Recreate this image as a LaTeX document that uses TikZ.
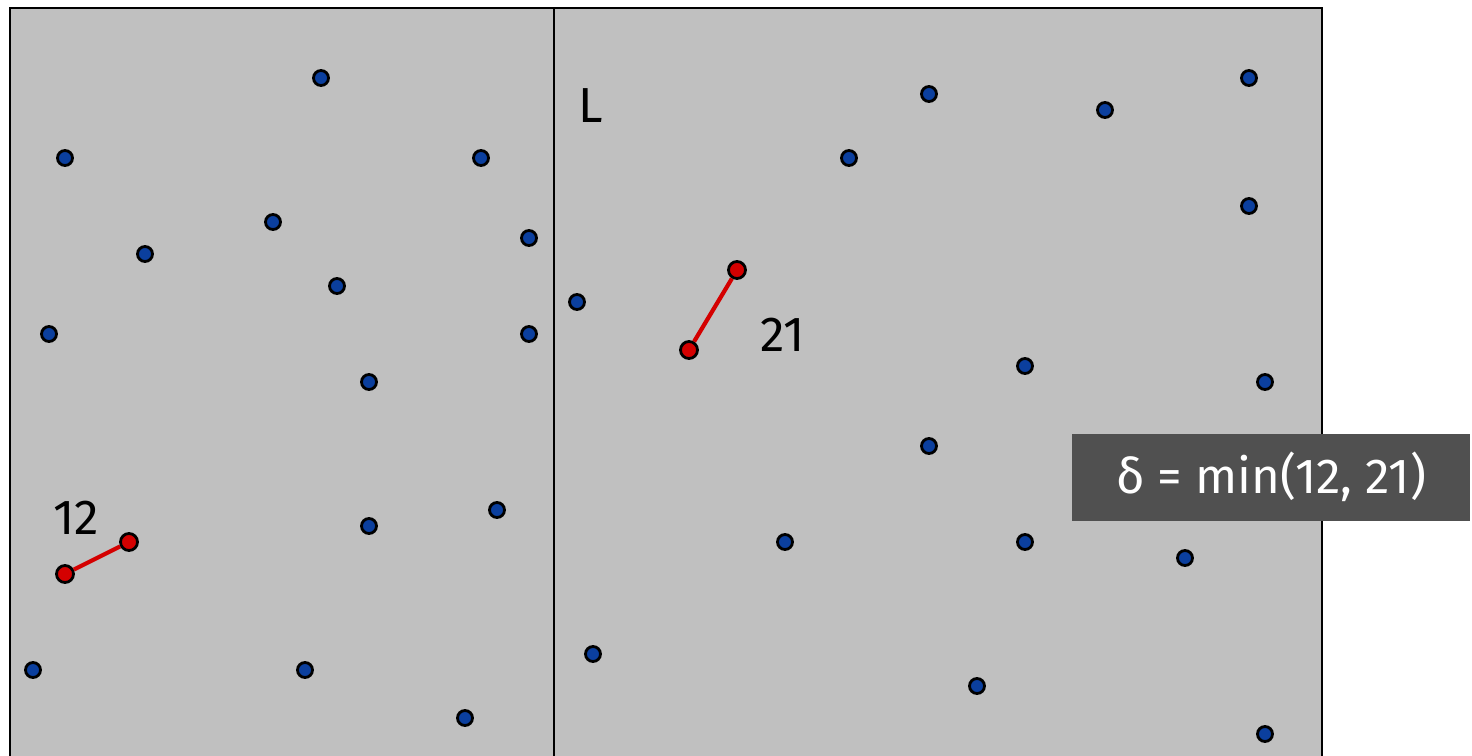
\documentclass[tikz,border=0pt]{standalone}
\usepackage{fontspec}
\setmainfont{Fira Sans}
\usepackage{xcolor}
\usetikzlibrary{positioning}
\definecolor{panelgray}{HTML}{C0C0C0}
\definecolor{dotblue}{HTML}{0B3F9E}
\definecolor{dotred}{HTML}{D40000}
\definecolor{boxgray}{HTML}{505050}
\tikzstyle{bluedot} = [circle, draw=black, fill=dotblue, line width=1.6pt, minimum size=0.3cm, inner sep=0pt]
\tikzstyle{reddot} = [circle, draw=black, fill=dotred, line width=1.6pt, minimum size=0.34cm, inner sep=0pt]
\tikzstyle{pairline} = [draw=dotred, line width=2.4pt]
\tikzstyle{numlabel} = [font=\fontsize{28}{32}\selectfont, text=black, inner sep=0pt]
\tikzstyle{resultbox} = [rectangle, fill=boxgray, text=white, minimum width=7.96cm, minimum height=1.74cm,
  font=\fontsize{28}{32}\selectfont, inner sep=0pt]

\begin{document}
\begin{tikzpicture}[x=0.02cm, y=-0.02cm]
  \useasboundingbox (0,0) rectangle (1472,755);
  % two halves
  \draw[fill=panelgray, line width=1.6pt] (10,8) rectangle (1322,780);
  \draw[line width=1.6pt] (554,8) -- (554,780);
  \node (lbl) [numlabel] at (591,106) {L};

  % points on both sides
  \foreach \px/\py [count=\i] in {321/78, 65/158, 481/158, 273/222, 529/238, 145/254, 337/286, 49/334,
      529/334, 369/382, 497/510, 369/526, 33/670, 305/670, 465/718,
      929/94, 1105/110, 1249/78, 849/158, 1249/206, 577/302, 1025/366, 1265/382, 929/446,
      785/542, 1025/542, 1185/558, 593/654, 977/686, 1265/734}
    \node (pt\i) [bluedot] at (\px,\py) {};

  % closest pair in each half
  \node (la) [reddot] at (65,574) {};
  \node (lb) [reddot] at (129,542) {};
  \node (ra) [reddot] at (689,350) {};
  \node (rb) [reddot] at (737,270) {};
  \draw[pairline] (la) -- (lb);
  \draw[pairline] (ra) -- (rb);
  \node (dl) [numlabel] at (76,518) {12};
  \node (dr) [numlabel] at (783,335) {21};

  \node (delta) [resultbox] at (1271,477) {δ = min(12, 21)};
\end{tikzpicture}
\end{document}
